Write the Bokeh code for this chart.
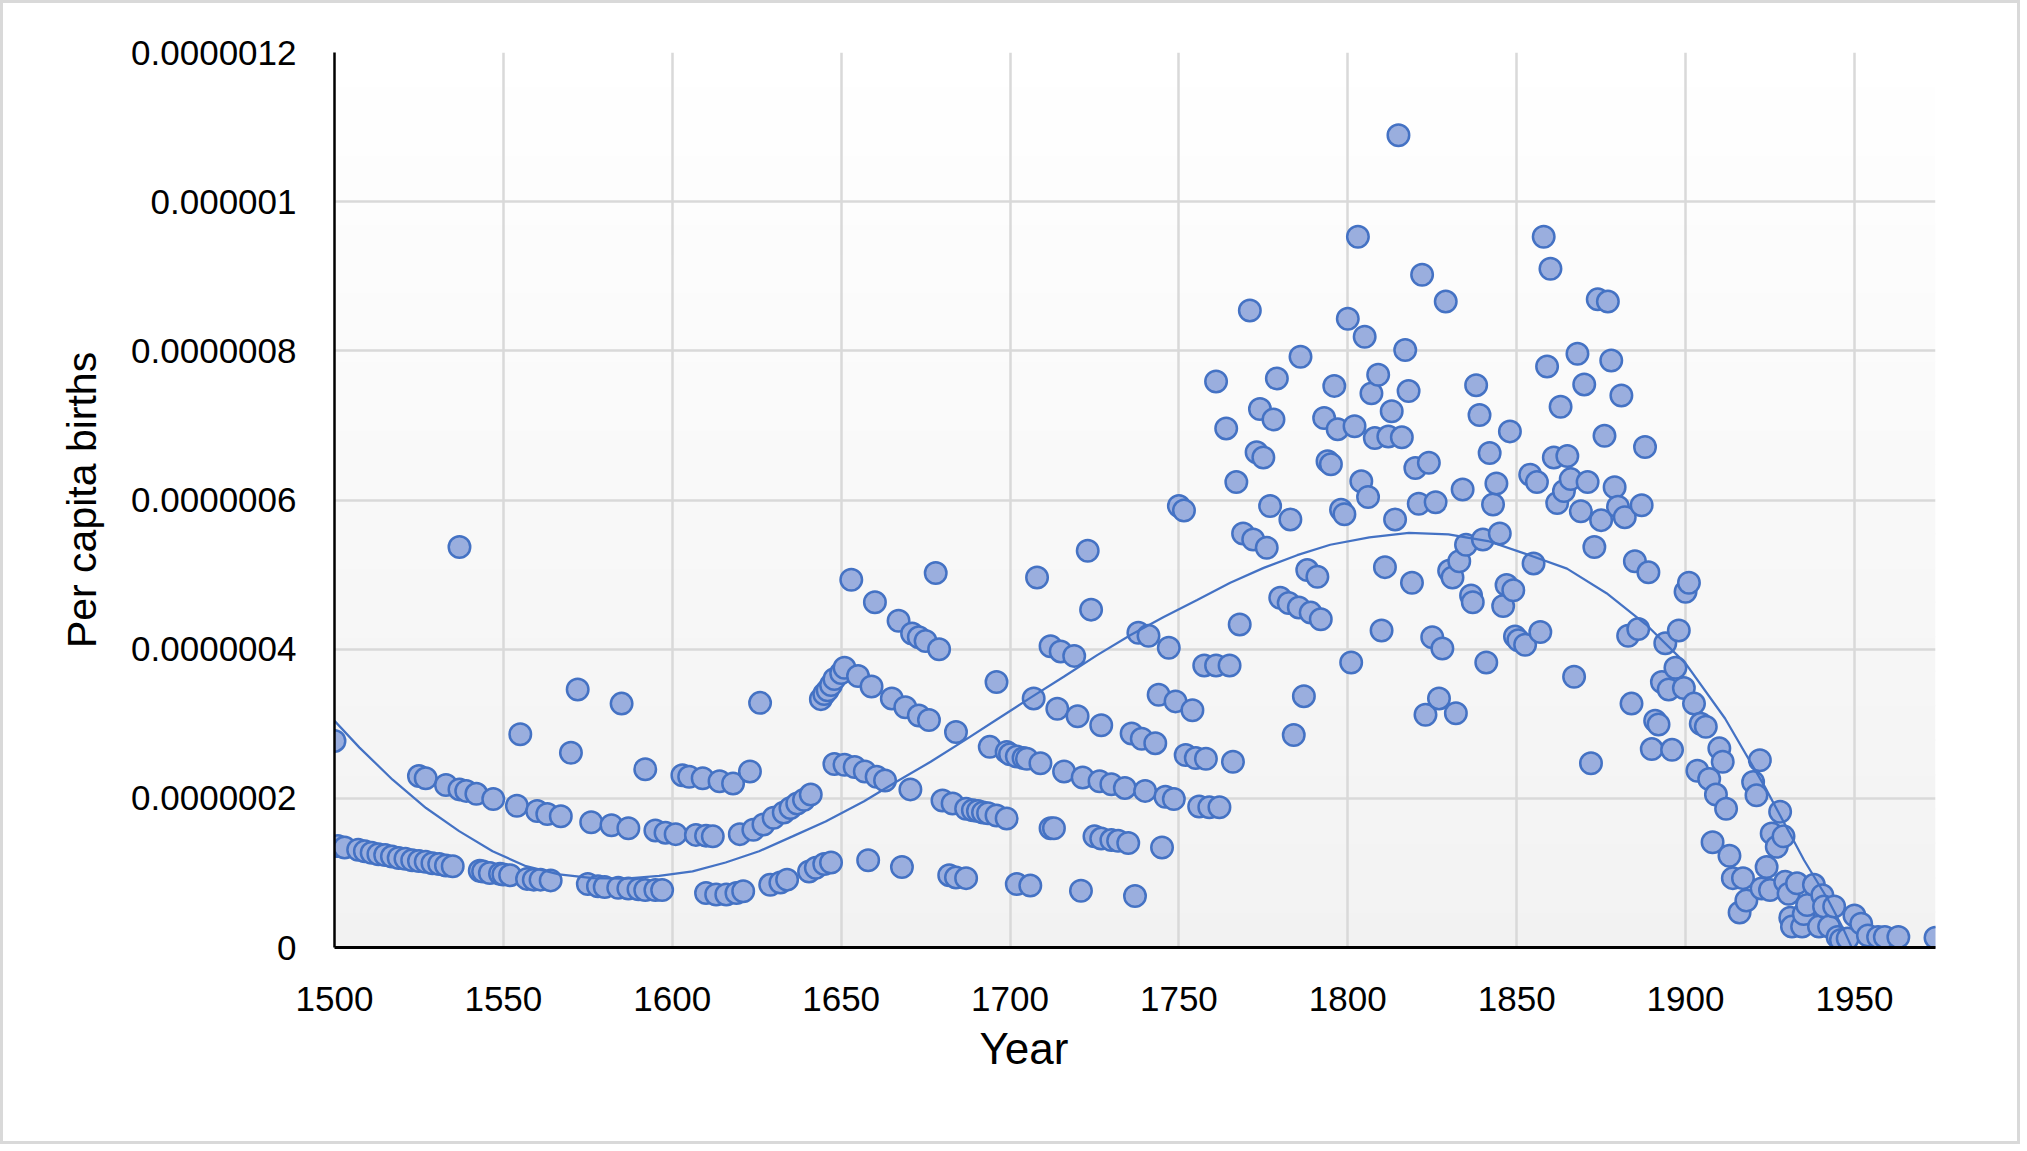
from bokeh.plotting import figure
from bokeh.models import Range1d, BoxAnnotation, Title
from bokeh.embed import file_html
from bokeh.resources import INLINE

# ---- data (births in units of 1e-7) ----
years = [1500, 1501, 1503, 1507, 1509, 1511, 1513, 1515, 1517, 1519, 1521, 1523, 1525, 1525, 1527, 1527,
         1529, 1531, 1533, 1533, 1535, 1537, 1537, 1539, 1542, 1543, 1544, 1546, 1547, 1549, 1550, 1552,
         1554, 1555, 1557, 1559, 1560, 1561, 1563, 1564, 1567, 1570, 1572, 1575, 1576, 1578, 1580, 1582,
         1584, 1585, 1587, 1587, 1590, 1592, 1592, 1595, 1595, 1597, 1598, 1601, 1603, 1605, 1607, 1609,
         1610, 1610, 1612, 1613, 1614, 1616, 1618, 1619, 1620, 1621, 1623, 1624, 1626, 1627, 1629, 1630,
         1632, 1633, 1634, 1635, 1637, 1639, 1640.5, 1641, 1642.5, 1644, 1645, 1645, 1646, 1647, 1647, 1648,
         1648, 1650, 1651, 1651, 1653, 1654, 1655, 1657, 1658, 1659, 1660, 1660.5, 1663, 1665, 1667, 1668,
         1669, 1670.5, 1671, 1673, 1673, 1675, 1676, 1678, 1679, 1680, 1682, 1683, 1684, 1684, 1687, 1687,
         1689, 1690.5, 1692, 1693.5, 1694, 1696, 1696, 1699, 1699, 1700, 1702, 1702, 1704, 1705, 1706, 1707,
         1708, 1709, 1712, 1712, 1713, 1714, 1715, 1716, 1719, 1720, 1721, 1721.5, 1723, 1724, 1725, 1726.5,
         1727, 1727, 1730, 1730, 1732, 1734, 1735, 1736, 1737, 1738, 1739, 1740, 1741, 1743, 1744, 1745,
         1746, 1747, 1748.5, 1749, 1750, 1751.5, 1752, 1754, 1755, 1756, 1757.5, 1758, 1759, 1761, 1761, 1762,
         1764, 1765, 1766, 1767, 1768, 1769, 1771, 1772, 1773, 1774, 1775, 1776, 1777, 1778, 1779, 1780,
         1782.5, 1783, 1784, 1785.5, 1786, 1787, 1788, 1789, 1791, 1792, 1793, 1794, 1795, 1796, 1797, 1798,
         1799, 1800, 1801, 1802, 1803, 1804, 1805, 1806, 1807, 1808, 1809, 1810, 1811, 1812, 1813, 1814,
         1815, 1816, 1817, 1818, 1819, 1820, 1821, 1822, 1823, 1824, 1825, 1826, 1827, 1828, 1829, 1830,
         1831, 1832, 1833, 1834, 1835, 1836.5, 1837, 1838, 1839, 1840, 1841, 1842, 1843, 1844, 1845, 1846,
         1847, 1848, 1849, 1849.5, 1850.5, 1852.5, 1854, 1855, 1856, 1857, 1858, 1859, 1860, 1861, 1862, 1863,
         1864, 1865, 1866, 1867, 1868, 1869, 1870, 1871, 1872, 1873, 1874, 1875, 1876, 1877, 1878, 1879,
         1880, 1881, 1882, 1883, 1884, 1885, 1886, 1887, 1888, 1889, 1890, 1891, 1892, 1893, 1894, 1895,
         1896, 1897, 1898, 1899.5, 1900, 1901, 1902.5, 1903.5, 1904.5, 1906, 1907, 1908, 1909, 1910, 1911, 1912,
         1913, 1914, 1916, 1917, 1918, 1920, 1921, 1922, 1922.5, 1924, 1925, 1925.5, 1927, 1928, 1929, 1929.5,
         1930.5, 1931, 1931.5, 1933, 1934.5, 1935, 1936, 1938, 1939.5, 1940.5, 1941, 1942.5, 1944, 1945, 1946, 1948,
         1950, 1952, 1954, 1957, 1959, 1963, 1974]

births_e7 = [2.77, 1.36, 1.34, 1.31, 1.29, 1.27, 1.25, 1.24, 1.22, 1.20, 1.19, 1.17, 1.16, 2.30, 1.15, 2.27,
             1.13, 1.12, 1.10, 2.18, 1.09, 2.12, 5.37, 2.10, 2.06, 1.03, 1.02, 1.00, 1.99, 0.99, 0.98, 0.97,
             1.90, 2.86, 0.92, 0.91, 1.83, 0.91, 1.79, 0.90, 1.76, 2.61, 3.46, 0.85, 1.68, 0.82, 0.81, 1.64,
             0.80, 3.27, 0.79, 1.60, 0.78, 0.77, 2.39, 0.77, 1.57, 0.77, 1.54, 1.52, 2.31, 2.29, 1.51, 2.27,
             1.50, 0.73, 1.49, 0.71, 2.23, 0.71, 2.20, 0.73, 1.52, 0.755, 2.36, 1.58, 3.28, 1.65, 0.84, 1.74,
             0.87, 1.81, 0.91, 1.87, 1.93, 1.98, 1.02, 2.05, 1.07, 3.33, 1.12, 3.40, 3.45, 3.52, 1.14, 3.60,
             2.46, 3.68, 3.75, 2.45, 4.93, 2.42, 3.64, 2.36, 1.17, 3.50, 4.63, 2.29, 2.24, 3.34, 4.38, 1.08,
             3.22, 2.12, 4.21, 4.16, 3.11, 4.11, 3.05, 5.02, 4.00, 1.97, 0.97, 1.93, 0.94, 2.89, 1.86, 0.93,
             1.84, 1.83, 1.81, 1.80, 2.69, 1.77, 3.56, 1.73, 2.62, 2.59, 2.56, 0.85, 2.54, 2.53, 0.83, 3.34,
             4.96, 2.47, 4.04, 1.60, 1.60, 3.20, 3.97, 2.36, 3.91, 3.10, 0.76, 2.28, 5.32, 4.53, 1.49, 2.23,
             1.46, 2.98, 1.44, 2.19, 1.43, 2.14, 1.40, 2.87, 0.69, 4.22, 2.80, 2.10, 4.18, 2.74, 3.39, 1.34,
             2.02, 4.02, 1.99, 3.30, 5.92, 5.86, 2.58, 3.18, 2.54, 1.89, 3.78, 2.53, 1.88, 3.78, 7.59, 1.88,
             6.96, 3.78, 2.49, 6.24, 4.33, 5.55, 8.54, 5.47, 6.64, 7.22, 6.57, 5.36, 5.92, 7.08, 7.63, 4.69,
             4.62, 5.74, 2.85, 4.56, 7.92, 3.37, 5.06, 4.49, 4.97, 4.40, 7.10, 6.52, 6.48, 7.53, 6.95, 5.87,
             5.81, 8.43, 3.82, 6.99, 9.53, 6.25, 8.19, 6.04, 7.43, 6.83, 7.68, 4.25, 5.10, 6.85, 7.19, 5.74,
             10.89, 6.84, 8.01, 7.46, 4.89, 6.43, 5.95, 9.02, 3.12, 6.50, 4.16, 5.97, 3.34, 4.01, 8.66, 5.05,
             4.96, 3.14, 5.18, 6.14, 5.40, 4.72, 4.63, 7.54, 7.14, 5.47, 3.82, 6.63, 5.94, 6.22, 5.55, 4.58,
             4.86, 6.92, 4.79, 4.17, 4.12, 4.06, 6.34, 5.15, 6.24, 4.23, 9.53, 7.79, 9.10, 6.57, 5.96, 7.25,
             6.12, 6.59, 6.28, 3.63, 7.96, 5.85, 7.55, 6.24, 2.47, 5.37, 8.69, 5.73, 6.86, 8.66, 7.87, 6.17,
             5.91, 7.40, 5.77, 4.18, 3.27, 5.18, 4.27, 5.93, 6.71, 5.03, 2.66, 3.04, 2.99, 3.56, 4.08, 3.46,
             2.65, 3.75, 4.25, 3.48, 4.77, 4.89, 3.27, 2.37, 3.00, 2.96, 2.26, 1.41, 2.05, 2.67, 2.49, 1.86,
             1.23, 0.93, 0.47, 0.93, 0.63, 2.22, 2.04, 2.51, 0.79, 1.08, 0.77, 1.53, 1.35, 1.82, 1.49, 0.88,
             0.72, 0.40, 0.28, 0.86, 0.28, 0.45, 0.57, 0.84, 0.28, 0.70, 0.55, 0.28, 0.55, 0.14, 0.10, 0.12,
             0.43, 0.32, 0.16, 0.14, 0.14, 0.14, 0.13]

# polynomial trendline as drawn in the reference
trend_years = [1500, 1507.4, 1517.2, 1527.1, 1536.9, 1546.8, 1556.7, 1566.5, 1576.4, 1586.2, 1596.1,
               1606, 1615.8, 1625.7, 1635.6, 1645.4, 1656.8, 1666.6, 1676.5, 1686.3, 1696.2, 1706.1,
               1715.9, 1725.8, 1735.7, 1745.5, 1755.4, 1765.2, 1775.1, 1785, 1794.8, 1806.4, 1818.1,
               1829.8, 1841.5, 1853.2, 1864.9, 1876.6, 1888.3, 1900, 1911.7, 1923.4, 1935.1, 1942.2,
               1946.8, 1949.2, 1952]
trend_e7 = [3.04, 2.68, 2.25, 1.87, 1.56, 1.29, 1.09, 0.98, 0.93, 0.925, 0.96,
            1.02, 1.14, 1.29, 1.49, 1.69, 1.96, 2.23, 2.49, 2.77, 3.06, 3.35,
            3.63, 3.92, 4.19, 4.43, 4.66, 4.89, 5.09, 5.26, 5.40, 5.50, 5.56,
            5.54, 5.45, 5.27, 5.08, 4.75, 4.33, 3.81, 3.07, 2.16, 1.17, 0.64,
            0.24, 0.0, -0.3]

x_ticks = [1500, 1550, 1600, 1650, 1700, 1750, 1800, 1850, 1900, 1950]
y_ticks = [0, 2e-7, 4e-7, 6e-7, 8e-7, 1e-6, 1.2e-6]
y_tick_labels = ["0", "0.0000002", "0.0000004", "0.0000006", "0.0000008", "0.000001", "0.0000012"]

births = [v * 1e-7 for v in births_e7]
trend = [v * 1e-7 for v in trend_e7]

X_MIN, X_MAX = 1500, 1974
Y_MIN, Y_MAX = 0, 1.2e-6

BLUE = "#4472C4"
FONT = "Liberation Sans"

p = figure(width=2020, height=1144, output_backend="svg", toolbar_location=None,
           x_range=Range1d(X_MIN, X_MAX), y_range=Range1d(Y_MIN, Y_MAX),
           min_border_left=331, min_border_right=88, min_border_top=49, min_border_bottom=200)
p.styles = {"border": "3px solid #D9D9D9"}

p.background_fill_color = "white"
p.border_fill_color = "white"
p.outline_line_color = None

# vertical gradient of the plot area (white at top, light grey at bottom)
n_bands = 26
for i in range(n_bands):
    b = Y_MIN + (Y_MAX - Y_MIN) * i / n_bands
    t = Y_MIN + (Y_MAX - Y_MIN) * (i + 1.05) / n_bands
    g = round(242 + 13 * (i + 0.5) / n_bands)
    p.add_layout(BoxAnnotation(bottom=b, top=t, fill_color="#%02x%02x%02x" % (g, g, g),
                               fill_alpha=1.0, line_color=None, level="image"))

# grid
p.xaxis.ticker = x_ticks
p.yaxis.ticker = y_ticks
p.grid.grid_line_color = "#D9D9D9"
p.grid.grid_line_width = 2.5

# axes
for ax in (p.xaxis[0], p.yaxis[0]):
    ax.axis_line_color = "black"
    ax.major_tick_line_color = None
    ax.minor_tick_line_color = None
    ax.major_label_text_font = FONT
    ax.major_label_text_font_size = "35px"
    ax.major_label_text_color = "black"
p.xaxis.axis_line_width = 3
p.yaxis.axis_line_width = 2.5
p.xaxis.major_label_standoff = 33
p.yaxis.major_label_standoff = 32
p.yaxis.major_label_overrides = dict(zip(y_ticks, y_tick_labels))

p.yaxis.axis_label = "Per capita births"
p.yaxis.axis_label_text_font = FONT
p.yaxis.axis_label_text_font_size = "41px"
p.yaxis.axis_label_text_font_style = "normal"
p.yaxis.axis_label_text_color = "black"
p.yaxis.axis_label_standoff = 23

# x-axis title sits left of the plot-area centre in the reference
p.add_layout(Title(text="Year", align="left", offset=645, standoff=16,
                   text_font=FONT, text_font_size="44px", text_font_style="normal",
                   text_color="black"), "below")

# data
p.scatter(years, births, size=21.5, fill_color="#9AAEDE", line_color=BLUE, line_width=2.5)
p.line(trend_years, trend, line_color=BLUE, line_width=2.25)

open("out.html", "w").write(file_html(p, INLINE))
